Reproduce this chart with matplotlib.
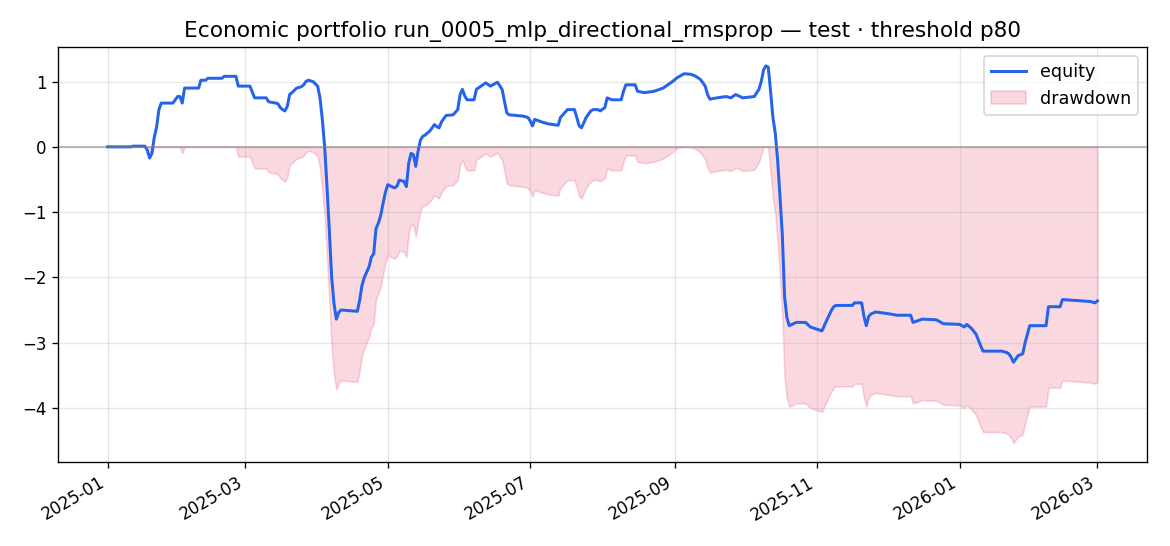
import numpy as np
import pandas as pd
import matplotlib
matplotlib.use("Agg")
import matplotlib.pyplot as plt

# days since 2025-01-01 and the equity
start = "2025-01-01"
days = [0, 10, 11, 16, 17, 18, 19, 20, 21, 22, 23, 28, 29, 30, 31, 32, 33, 39, 40, 42,
        43, 49, 50, 55, 56, 61, 63, 68, 69, 72, 73, 74, 75, 76, 77, 78, 79, 81, 83, 84,
        85, 86, 88, 90, 91, 92, 93, 94, 95, 96, 97, 98, 99, 100, 107, 108, 109, 110, 111, 112,
        113, 114, 115, 116, 117, 118, 119, 120, 123, 124, 125, 127, 128, 129, 130, 131, 132, 133, 134, 135,
        136, 138, 139, 140, 141, 142, 143, 145, 148, 150, 151, 152, 153, 154, 157, 158, 160, 162, 164, 167,
        169, 170, 171, 172, 178, 180, 181, 182, 183, 186, 189, 193, 194, 197, 200, 201, 202, 203, 205, 207,
        208, 210, 211, 213, 214, 216, 220, 221, 222, 226, 227, 230, 234, 238, 240, 242, 244, 247, 250, 252,
        254, 256, 257, 258, 261, 265, 267, 269, 271, 272, 277, 279, 280, 281, 282, 283, 284, 285, 286, 287,
        288, 289, 290, 291, 292, 295, 299, 301, 306, 308, 310, 311, 312, 319, 320, 323, 324, 325, 326, 327,
        329, 335, 338, 344, 345, 349, 355, 358, 365, 367, 368, 370, 372, 374, 375, 383, 385, 386, 387, 388,
        389, 390, 392, 393, 395, 402, 403, 408, 409, 421, 423, 424]
equity = [0.00, 0.00, 0.01, 0.01, -0.05, -0.17, -0.10, 0.14, 0.30, 0.57, 0.67, 0.67, 0.72, 0.77, 0.77, 0.67, 0.90, 0.90, 1.02, 1.02,
          1.05, 1.05, 1.08, 1.08, 0.93, 0.93, 0.75, 0.75, 0.69, 0.67, 0.66, 0.60, 0.57, 0.55, 0.62, 0.80, 0.83, 0.90, 0.92, 0.95,
          1.00, 1.02, 1.00, 0.93, 0.75, 0.42, 0.00, -0.61, -1.28, -2.00, -2.40, -2.64, -2.54, -2.50, -2.52, -2.35, -2.12, -2.00, -1.92, -1.84,
          -1.69, -1.64, -1.25, -1.17, -1.05, -0.87, -0.70, -0.58, -0.63, -0.60, -0.51, -0.53, -0.61, -0.25, -0.10, -0.12, -0.30, -0.07, 0.10, 0.16,
          0.18, 0.24, 0.29, 0.34, 0.31, 0.29, 0.38, 0.48, 0.49, 0.57, 0.80, 0.88, 0.78, 0.72, 0.72, 0.88, 0.93, 0.98, 0.93, 0.99,
          0.88, 0.70, 0.52, 0.49, 0.47, 0.45, 0.40, 0.32, 0.42, 0.38, 0.35, 0.33, 0.45, 0.57, 0.57, 0.45, 0.32, 0.29, 0.45, 0.55,
          0.57, 0.57, 0.55, 0.60, 0.75, 0.72, 0.72, 0.85, 0.95, 0.95, 0.85, 0.83, 0.85, 0.90, 0.95, 1.00, 1.06, 1.12, 1.11, 1.08,
          1.03, 0.93, 0.80, 0.73, 0.75, 0.77, 0.75, 0.80, 0.77, 0.75, 0.77, 0.88, 1.00, 1.18, 1.24, 1.22, 0.85, 0.45, 0.21, -0.20,
          -0.75, -1.33, -2.30, -2.62, -2.74, -2.69, -2.69, -2.76, -2.82, -2.66, -2.51, -2.45, -2.43, -2.43, -2.39, -2.39, -2.60, -2.74, -2.60, -2.56,
          -2.53, -2.56, -2.58, -2.58, -2.69, -2.64, -2.65, -2.71, -2.72, -2.76, -2.72, -2.78, -2.87, -3.05, -3.13, -3.13, -3.15, -3.17, -3.22, -3.30,
          -3.25, -3.20, -3.17, -3.00, -2.74, -2.74, -2.45, -2.45, -2.34, -2.37, -2.39, -2.36]

dates = pd.Timestamp(start) + pd.to_timedelta(days, unit="D")
eq = np.array(equity)
drawdown = eq - np.maximum.accumulate(eq)

fig, ax = plt.subplots(figsize=(9.75, 4.55), dpi=120)

ax.plot(dates, eq, color="#2563eb", lw=1.8, label="equity")
ax.fill_between(dates, drawdown, 0, color="#e11d48", alpha=0.17, label="drawdown")
ax.axhline(0, color="gray", lw=1, alpha=0.6)
ax.grid(True, alpha=0.3)
ax.legend(loc="upper right", fontsize=10.5)
ax.set_title("Economic portfolio run_0005_mlp_directional_rmsprop \u2014 test \u00b7 threshold p80", fontsize=13)
fig.autofmt_xdate()
fig.subplots_adjust(left=0.0496, right=0.9803, top=0.9139, bottom=0.1538)

fig.savefig("out.png", dpi=120)
